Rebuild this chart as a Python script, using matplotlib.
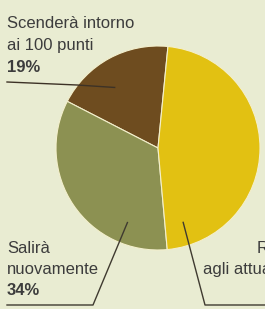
import matplotlib
matplotlib.use("Agg")
import matplotlib.pyplot as plt
import numpy as np
from matplotlib import font_manager

labels = ["Scenderà intorno\nai 100 punti", "Salirà\nnuovamente", "Resterà vicino\nagli attuali livelli"]
values = [19, 34, 47]
pct_labels = ["19%", "34%", "47%"]
colors = ["#6e4c1f", "#8c9152", "#e2c112"]

names = {f.name for f in font_manager.fontManager.ttflist}
font = "Liberation Sans Narrow" if "Liberation Sans Narrow" in names else "Liberation Sans"

bg = "#e9ecd2"
W, H = 265, 309
fig = plt.figure(figsize=(W / 100, H / 100), dpi=100, facecolor=bg)

# pie centre (158,148) px, radius 102 px
cx, cy, r = 158, 148, 102
ax = fig.add_axes([(cx - r) / W, 1 - (cy + r) / H, 2 * r / W, 2 * r / H])
ax.set_facecolor(bg)
ax.axis("off")
wedges, _ = ax.pie(values, colors=colors, startangle=84.4, counterclock=True,
                   radius=1, wedgeprops=dict(edgecolor="#f3efcc", linewidth=0.8))
ax.set_xlim(-1, 1)
ax.set_ylim(-1, 1)


def px(x, y):
    return x / W, 1 - y / H


def anchor(angle, rad):
    a = np.deg2rad(angle)
    x = cx + rad * r * np.cos(a)
    y = cy - rad * r * np.sin(a)
    return x, y


txt = "#3c3c3c"
line_c = "#3f3a30"


def draw_line(pts, color=line_c):
    xs = [p[0] / W for p in pts]
    ys = [1 - p[1] / H for p in pts]
    fig.add_artist(plt.Line2D(xs, ys, transform=fig.transFigure, color=color, lw=1))


# brown
a = anchor(125.6, 0.73)
draw_line([(7, 82), (77, 85), a], color="#3d3226")
# green
a = anchor(247.7, 0.79)
draw_line([(7, 305), (93, 305), a])
# yellow
a = anchor(288.7, 0.77)
draw_line([a, (205, 305), (265, 305)])

fs = 12 if font == "Liberation Sans" else 13.5
l0 = labels[0].split("\n")
fig.text(*px(7, 28), l0[0], family=font, fontsize=fs, color=txt, va="baseline")
fig.text(*px(7, 50), l0[1], family=font, fontsize=fs, color=txt, va="baseline")
fig.text(*px(7, 72), pct_labels[0], family=font, fontsize=fs, color=txt, va="baseline", weight="bold")

l1 = labels[1].split("\n")
fig.text(*px(7, 253), l1[0], family=font, fontsize=fs, color=txt, va="baseline")
fig.text(*px(7, 274), l1[1], family=font, fontsize=fs, color=txt, va="baseline")
fig.text(*px(7, 295), pct_labels[1], family=font, fontsize=fs, color=txt, va="baseline", weight="bold")

# right-hand label is cut off by the crop in the original
l2 = labels[2].split("\n")
fig.text(*px(257, 253), l2[0], family=font, fontsize=fs, color=txt, va="baseline")
fig.text(*px(203, 274), l2[1], family=font, fontsize=fs, color=txt, va="baseline")

fig.savefig("out.png", dpi=100, facecolor=bg)
